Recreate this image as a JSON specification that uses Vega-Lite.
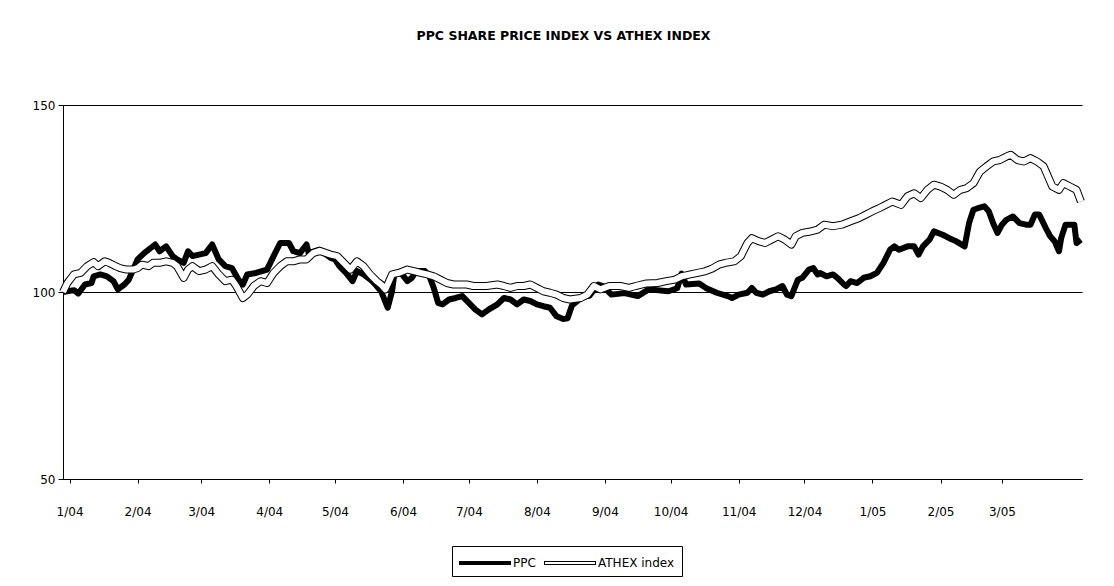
{
  "$schema": "https://vega.github.io/schema/vega-lite/v6.json",
  "width": 1019,
  "height": 374,
  "autosize": "none",
  "padding": {"left": 63, "top": 105, "right": 32, "bottom": 107},
  "background": "white",
  "title": {"text": "PPC SHARE PRICE INDEX VS ATHEX INDEX", "font": "DejaVu Sans", "fontSize": 12.5, "fontWeight": "bold", "color": "black", "anchor": "middle", "offset": 47, "baseline": "alphabetic", "dx": -9},
  "data": {"values": [
      {"series": "PPC", "date": "2003-12-29", "value": 100.0}, {"series": "PPC", "date": "2004-01-03", "value": 100.5}, {"series": "PPC", "date": "2004-01-05", "value": 99.6}, {"series": "PPC", "date": "2004-01-08", "value": 102.0}, {"series": "PPC", "date": "2004-01-11", "value": 102.4}, {"series": "PPC", "date": "2004-01-12", "value": 104.2}, {"series": "PPC", "date": "2004-01-15", "value": 104.7}, {"series": "PPC", "date": "2004-01-18", "value": 104.2}, {"series": "PPC", "date": "2004-01-21", "value": 102.9}, {"series": "PPC", "date": "2004-01-23", "value": 100.7}, {"series": "PPC", "date": "2004-01-26", "value": 102.0}, {"series": "PPC", "date": "2004-01-28", "value": 103.3},
      {"series": "PPC", "date": "2004-02-01", "value": 108.7}, {"series": "PPC", "date": "2004-02-04", "value": 110.4}, {"series": "PPC", "date": "2004-02-09", "value": 112.7}, {"series": "PPC", "date": "2004-02-11", "value": 110.9}, {"series": "PPC", "date": "2004-02-14", "value": 112.2}, {"series": "PPC", "date": "2004-02-17", "value": 109.6}, {"series": "PPC", "date": "2004-02-19", "value": 108.7}, {"series": "PPC", "date": "2004-02-22", "value": 107.8}, {"series": "PPC", "date": "2004-02-24", "value": 110.9}, {"series": "PPC", "date": "2004-02-26", "value": 109.6}, {"series": "PPC", "date": "2004-02-29", "value": 110.0},
      {"series": "PPC", "date": "2004-03-03", "value": 110.4}, {"series": "PPC", "date": "2004-03-06", "value": 112.7}, {"series": "PPC", "date": "2004-03-09", "value": 108.7}, {"series": "PPC", "date": "2004-03-12", "value": 106.9}, {"series": "PPC", "date": "2004-03-15", "value": 106.4}, {"series": "PPC", "date": "2004-03-18", "value": 103.3}, {"series": "PPC", "date": "2004-03-20", "value": 102.0}, {"series": "PPC", "date": "2004-03-22", "value": 104.7}, {"series": "PPC", "date": "2004-03-26", "value": 105.1}, {"series": "PPC", "date": "2004-03-31", "value": 106.0},
      {"series": "PPC", "date": "2004-04-03", "value": 109.6}, {"series": "PPC", "date": "2004-04-06", "value": 113.1}, {"series": "PPC", "date": "2004-04-10", "value": 113.1}, {"series": "PPC", "date": "2004-04-12", "value": 110.9}, {"series": "PPC", "date": "2004-04-15", "value": 110.4}, {"series": "PPC", "date": "2004-04-18", "value": 112.7}, {"series": "PPC", "date": "2004-04-19", "value": 110.4}, {"series": "PPC", "date": "2004-04-24", "value": 111.3}, {"series": "PPC", "date": "2004-04-29", "value": 109.1},
      {"series": "PPC", "date": "2004-05-01", "value": 108.7}, {"series": "PPC", "date": "2004-05-03", "value": 106.9}, {"series": "PPC", "date": "2004-05-06", "value": 105.1}, {"series": "PPC", "date": "2004-05-09", "value": 102.9}, {"series": "PPC", "date": "2004-05-11", "value": 105.6}, {"series": "PPC", "date": "2004-05-14", "value": 104.7}, {"series": "PPC", "date": "2004-05-18", "value": 102.9}, {"series": "PPC", "date": "2004-05-20", "value": 101.6}, {"series": "PPC", "date": "2004-05-22", "value": 100.2}, {"series": "PPC", "date": "2004-05-25", "value": 95.8}, {"series": "PPC", "date": "2004-05-27", "value": 100.2}, {"series": "PPC", "date": "2004-05-28", "value": 104.7}, {"series": "PPC", "date": "2004-05-31", "value": 105.1},
      {"series": "PPC", "date": "2004-06-03", "value": 102.9}, {"series": "PPC", "date": "2004-06-05", "value": 103.8}, {"series": "PPC", "date": "2004-06-07", "value": 105.6}, {"series": "PPC", "date": "2004-06-11", "value": 105.6}, {"series": "PPC", "date": "2004-06-13", "value": 104.2}, {"series": "PPC", "date": "2004-06-15", "value": 101.1}, {"series": "PPC", "date": "2004-06-17", "value": 97.1}, {"series": "PPC", "date": "2004-06-19", "value": 96.7}, {"series": "PPC", "date": "2004-06-22", "value": 98.0}, {"series": "PPC", "date": "2004-06-25", "value": 98.4}, {"series": "PPC", "date": "2004-06-28", "value": 98.9},
      {"series": "PPC", "date": "2004-07-01", "value": 97.1}, {"series": "PPC", "date": "2004-07-04", "value": 95.3}, {"series": "PPC", "date": "2004-07-07", "value": 94.0}, {"series": "PPC", "date": "2004-07-10", "value": 95.3}, {"series": "PPC", "date": "2004-07-14", "value": 96.7}, {"series": "PPC", "date": "2004-07-17", "value": 98.4}, {"series": "PPC", "date": "2004-07-20", "value": 98.0}, {"series": "PPC", "date": "2004-07-23", "value": 96.7}, {"series": "PPC", "date": "2004-07-26", "value": 98.0}, {"series": "PPC", "date": "2004-07-29", "value": 97.6},
      {"series": "PPC", "date": "2004-08-01", "value": 96.7}, {"series": "PPC", "date": "2004-08-04", "value": 96.2}, {"series": "PPC", "date": "2004-08-07", "value": 95.8}, {"series": "PPC", "date": "2004-08-10", "value": 93.5}, {"series": "PPC", "date": "2004-08-13", "value": 92.8}, {"series": "PPC", "date": "2004-08-15", "value": 93.0}, {"series": "PPC", "date": "2004-08-17", "value": 96.4}, {"series": "PPC", "date": "2004-08-22", "value": 98.8}, {"series": "PPC", "date": "2004-08-25", "value": 99.0}, {"series": "PPC", "date": "2004-08-29", "value": 102.0}, {"series": "PPC", "date": "2004-08-31", "value": 101.6},
      {"series": "PPC", "date": "2004-09-04", "value": 99.3}, {"series": "PPC", "date": "2004-09-10", "value": 99.7}, {"series": "PPC", "date": "2004-09-16", "value": 98.9}, {"series": "PPC", "date": "2004-09-21", "value": 100.7}, {"series": "PPC", "date": "2004-09-30", "value": 100.2},
      {"series": "PPC", "date": "2004-10-04", "value": 101.0}, {"series": "PPC", "date": "2004-10-06", "value": 104.9}, {"series": "PPC", "date": "2004-10-08", "value": 102.0}, {"series": "PPC", "date": "2004-10-14", "value": 102.3}, {"series": "PPC", "date": "2004-10-17", "value": 101.1}, {"series": "PPC", "date": "2004-10-22", "value": 99.8}, {"series": "PPC", "date": "2004-10-27", "value": 98.9}, {"series": "PPC", "date": "2004-10-29", "value": 98.4},
      {"series": "PPC", "date": "2004-11-01", "value": 99.3}, {"series": "PPC", "date": "2004-11-05", "value": 99.8}, {"series": "PPC", "date": "2004-11-07", "value": 101.1}, {"series": "PPC", "date": "2004-11-09", "value": 99.8}, {"series": "PPC", "date": "2004-11-12", "value": 99.3}, {"series": "PPC", "date": "2004-11-15", "value": 100.2}, {"series": "PPC", "date": "2004-11-18", "value": 100.7}, {"series": "PPC", "date": "2004-11-21", "value": 101.6}, {"series": "PPC", "date": "2004-11-23", "value": 99.3}, {"series": "PPC", "date": "2004-11-25", "value": 98.9}, {"series": "PPC", "date": "2004-11-28", "value": 103.3}, {"series": "PPC", "date": "2004-11-30", "value": 103.8},
      {"series": "PPC", "date": "2004-12-03", "value": 106.0}, {"series": "PPC", "date": "2004-12-05", "value": 106.4}, {"series": "PPC", "date": "2004-12-07", "value": 104.7}, {"series": "PPC", "date": "2004-12-08", "value": 105.1}, {"series": "PPC", "date": "2004-12-11", "value": 104.2}, {"series": "PPC", "date": "2004-12-14", "value": 104.7}, {"series": "PPC", "date": "2004-12-16", "value": 103.8}, {"series": "PPC", "date": "2004-12-19", "value": 102.0}, {"series": "PPC", "date": "2004-12-20", "value": 101.6}, {"series": "PPC", "date": "2004-12-22", "value": 102.9}, {"series": "PPC", "date": "2004-12-25", "value": 102.4}, {"series": "PPC", "date": "2004-12-28", "value": 103.8}, {"series": "PPC", "date": "2004-12-31", "value": 104.2},
      {"series": "PPC", "date": "2005-01-03", "value": 105.1}, {"series": "PPC", "date": "2005-01-06", "value": 107.8}, {"series": "PPC", "date": "2005-01-09", "value": 111.3}, {"series": "PPC", "date": "2005-01-11", "value": 112.2}, {"series": "PPC", "date": "2005-01-13", "value": 111.3}, {"series": "PPC", "date": "2005-01-17", "value": 112.2}, {"series": "PPC", "date": "2005-01-20", "value": 112.2}, {"series": "PPC", "date": "2005-01-22", "value": 110.0}, {"series": "PPC", "date": "2005-01-24", "value": 112.2}, {"series": "PPC", "date": "2005-01-27", "value": 114.0}, {"series": "PPC", "date": "2005-01-29", "value": 116.2},
      {"series": "PPC", "date": "2005-02-02", "value": 115.3}, {"series": "PPC", "date": "2005-02-05", "value": 114.4}, {"series": "PPC", "date": "2005-02-08", "value": 113.6}, {"series": "PPC", "date": "2005-02-12", "value": 112.2}, {"series": "PPC", "date": "2005-02-14", "value": 118.4}, {"series": "PPC", "date": "2005-02-16", "value": 122.0}, {"series": "PPC", "date": "2005-02-18", "value": 122.4}, {"series": "PPC", "date": "2005-02-21", "value": 122.9}, {"series": "PPC", "date": "2005-02-23", "value": 121.6}, {"series": "PPC", "date": "2005-02-25", "value": 118.4}, {"series": "PPC", "date": "2005-02-27", "value": 115.8},
      {"series": "PPC", "date": "2005-03-01", "value": 118.0}, {"series": "PPC", "date": "2005-03-03", "value": 119.3}, {"series": "PPC", "date": "2005-03-06", "value": 120.2}, {"series": "PPC", "date": "2005-03-09", "value": 118.4}, {"series": "PPC", "date": "2005-03-12", "value": 118.0}, {"series": "PPC", "date": "2005-03-14", "value": 118.0}, {"series": "PPC", "date": "2005-03-16", "value": 120.7}, {"series": "PPC", "date": "2005-03-18", "value": 120.7}, {"series": "PPC", "date": "2005-03-21", "value": 117.1}, {"series": "PPC", "date": "2005-03-23", "value": 114.9}, {"series": "PPC", "date": "2005-03-25", "value": 113.6}, {"series": "PPC", "date": "2005-03-27", "value": 110.9}, {"series": "PPC", "date": "2005-03-28", "value": 114.4}, {"series": "PPC", "date": "2005-03-30", "value": 118.0},
      {"series": "PPC", "date": "2005-04-01", "value": 118.0}, {"series": "PPC", "date": "2005-04-03", "value": 118.0}, {"series": "PPC", "date": "2005-04-04", "value": 113.1}, {"series": "PPC", "date": "2005-04-06", "value": 114.0},
      {"series": "ATHEX index", "date": "2003-12-29", "value": 100.0}, {"series": "ATHEX index", "date": "2003-12-31", "value": 102.4}, {"series": "ATHEX index", "date": "2004-01-03", "value": 104.7}, {"series": "ATHEX index", "date": "2004-01-06", "value": 105.1}, {"series": "ATHEX index", "date": "2004-01-09", "value": 106.9}, {"series": "ATHEX index", "date": "2004-01-12", "value": 108.0}, {"series": "ATHEX index", "date": "2004-01-14", "value": 106.9}, {"series": "ATHEX index", "date": "2004-01-17", "value": 108.2}, {"series": "ATHEX index", "date": "2004-01-19", "value": 107.8}, {"series": "ATHEX index", "date": "2004-01-22", "value": 106.9}, {"series": "ATHEX index", "date": "2004-01-24", "value": 106.4}, {"series": "ATHEX index", "date": "2004-01-27", "value": 106.0}, {"series": "ATHEX index", "date": "2004-01-30", "value": 106.0},
      {"series": "ATHEX index", "date": "2004-02-01", "value": 106.4}, {"series": "ATHEX index", "date": "2004-02-03", "value": 107.3}, {"series": "ATHEX index", "date": "2004-02-06", "value": 106.9}, {"series": "ATHEX index", "date": "2004-02-08", "value": 107.8}, {"series": "ATHEX index", "date": "2004-02-11", "value": 107.8}, {"series": "ATHEX index", "date": "2004-02-14", "value": 108.2}, {"series": "ATHEX index", "date": "2004-02-17", "value": 107.8}, {"series": "ATHEX index", "date": "2004-02-19", "value": 106.9}, {"series": "ATHEX index", "date": "2004-02-22", "value": 103.8}, {"series": "ATHEX index", "date": "2004-02-24", "value": 106.0}, {"series": "ATHEX index", "date": "2004-02-26", "value": 106.9}, {"series": "ATHEX index", "date": "2004-02-29", "value": 105.6},
      {"series": "ATHEX index", "date": "2004-03-03", "value": 106.0}, {"series": "ATHEX index", "date": "2004-03-06", "value": 106.9}, {"series": "ATHEX index", "date": "2004-03-09", "value": 104.7}, {"series": "ATHEX index", "date": "2004-03-12", "value": 102.9}, {"series": "ATHEX index", "date": "2004-03-15", "value": 103.3}, {"series": "ATHEX index", "date": "2004-03-17", "value": 101.6}, {"series": "ATHEX index", "date": "2004-03-20", "value": 98.4}, {"series": "ATHEX index", "date": "2004-03-22", "value": 99.3}, {"series": "ATHEX index", "date": "2004-03-25", "value": 101.6}, {"series": "ATHEX index", "date": "2004-03-28", "value": 102.9}, {"series": "ATHEX index", "date": "2004-03-31", "value": 102.4},
      {"series": "ATHEX index", "date": "2004-04-03", "value": 105.1}, {"series": "ATHEX index", "date": "2004-04-06", "value": 106.9}, {"series": "ATHEX index", "date": "2004-04-09", "value": 108.2}, {"series": "ATHEX index", "date": "2004-04-12", "value": 108.2}, {"series": "ATHEX index", "date": "2004-04-15", "value": 108.7}, {"series": "ATHEX index", "date": "2004-04-18", "value": 108.7}, {"series": "ATHEX index", "date": "2004-04-21", "value": 110.4}, {"series": "ATHEX index", "date": "2004-04-24", "value": 111.0}, {"series": "ATHEX index", "date": "2004-04-29", "value": 110.0},
      {"series": "ATHEX index", "date": "2004-05-02", "value": 109.6}, {"series": "ATHEX index", "date": "2004-05-05", "value": 107.8}, {"series": "ATHEX index", "date": "2004-05-08", "value": 106.0}, {"series": "ATHEX index", "date": "2004-05-11", "value": 108.2}, {"series": "ATHEX index", "date": "2004-05-14", "value": 106.9}, {"series": "ATHEX index", "date": "2004-05-17", "value": 104.7}, {"series": "ATHEX index", "date": "2004-05-20", "value": 102.9}, {"series": "ATHEX index", "date": "2004-05-22", "value": 102.0}, {"series": "ATHEX index", "date": "2004-05-24", "value": 100.7}, {"series": "ATHEX index", "date": "2004-05-27", "value": 104.7}, {"series": "ATHEX index", "date": "2004-05-30", "value": 105.1},
      {"series": "ATHEX index", "date": "2004-06-03", "value": 106.0}, {"series": "ATHEX index", "date": "2004-06-06", "value": 105.6}, {"series": "ATHEX index", "date": "2004-06-09", "value": 105.1}, {"series": "ATHEX index", "date": "2004-06-12", "value": 104.7}, {"series": "ATHEX index", "date": "2004-06-15", "value": 104.2}, {"series": "ATHEX index", "date": "2004-06-18", "value": 103.3}, {"series": "ATHEX index", "date": "2004-06-21", "value": 102.4}, {"series": "ATHEX index", "date": "2004-06-24", "value": 102.0}, {"series": "ATHEX index", "date": "2004-06-27", "value": 102.0}, {"series": "ATHEX index", "date": "2004-06-30", "value": 102.0},
      {"series": "ATHEX index", "date": "2004-07-03", "value": 101.6}, {"series": "ATHEX index", "date": "2004-07-06", "value": 101.6}, {"series": "ATHEX index", "date": "2004-07-09", "value": 101.6}, {"series": "ATHEX index", "date": "2004-07-14", "value": 102.0}, {"series": "ATHEX index", "date": "2004-07-17", "value": 101.6}, {"series": "ATHEX index", "date": "2004-07-20", "value": 101.1}, {"series": "ATHEX index", "date": "2004-07-23", "value": 101.6}, {"series": "ATHEX index", "date": "2004-07-26", "value": 101.6}, {"series": "ATHEX index", "date": "2004-07-29", "value": 102.0},
      {"series": "ATHEX index", "date": "2004-08-01", "value": 101.1}, {"series": "ATHEX index", "date": "2004-08-04", "value": 100.2}, {"series": "ATHEX index", "date": "2004-08-07", "value": 99.8}, {"series": "ATHEX index", "date": "2004-08-10", "value": 99.3}, {"series": "ATHEX index", "date": "2004-08-13", "value": 98.4}, {"series": "ATHEX index", "date": "2004-08-16", "value": 98.0}, {"series": "ATHEX index", "date": "2004-08-21", "value": 98.4}, {"series": "ATHEX index", "date": "2004-08-24", "value": 99.3}, {"series": "ATHEX index", "date": "2004-08-27", "value": 101.6}, {"series": "ATHEX index", "date": "2004-08-30", "value": 100.7},
      {"series": "ATHEX index", "date": "2004-09-03", "value": 101.6}, {"series": "ATHEX index", "date": "2004-09-08", "value": 101.6}, {"series": "ATHEX index", "date": "2004-09-12", "value": 101.1}, {"series": "ATHEX index", "date": "2004-09-15", "value": 101.6}, {"series": "ATHEX index", "date": "2004-09-20", "value": 102.3}, {"series": "ATHEX index", "date": "2004-09-25", "value": 102.4}, {"series": "ATHEX index", "date": "2004-09-29", "value": 102.9},
      {"series": "ATHEX index", "date": "2004-10-03", "value": 103.3}, {"series": "ATHEX index", "date": "2004-10-06", "value": 104.2}, {"series": "ATHEX index", "date": "2004-10-10", "value": 104.7}, {"series": "ATHEX index", "date": "2004-10-14", "value": 105.2}, {"series": "ATHEX index", "date": "2004-10-17", "value": 105.6}, {"series": "ATHEX index", "date": "2004-10-20", "value": 106.3}, {"series": "ATHEX index", "date": "2004-10-23", "value": 107.3}, {"series": "ATHEX index", "date": "2004-10-26", "value": 107.8}, {"series": "ATHEX index", "date": "2004-10-30", "value": 108.2},
      {"series": "ATHEX index", "date": "2004-11-02", "value": 109.6}, {"series": "ATHEX index", "date": "2004-11-05", "value": 113.1}, {"series": "ATHEX index", "date": "2004-11-07", "value": 114.4}, {"series": "ATHEX index", "date": "2004-11-10", "value": 113.6}, {"series": "ATHEX index", "date": "2004-11-13", "value": 113.1}, {"series": "ATHEX index", "date": "2004-11-16", "value": 114.0}, {"series": "ATHEX index", "date": "2004-11-19", "value": 114.9}, {"series": "ATHEX index", "date": "2004-11-22", "value": 114.0}, {"series": "ATHEX index", "date": "2004-11-25", "value": 112.7}, {"series": "ATHEX index", "date": "2004-11-27", "value": 114.9}, {"series": "ATHEX index", "date": "2004-11-30", "value": 115.8},
      {"series": "ATHEX index", "date": "2004-12-03", "value": 116.1}, {"series": "ATHEX index", "date": "2004-12-07", "value": 116.7}, {"series": "ATHEX index", "date": "2004-12-10", "value": 118.0}, {"series": "ATHEX index", "date": "2004-12-14", "value": 117.6}, {"series": "ATHEX index", "date": "2004-12-18", "value": 118.0}, {"series": "ATHEX index", "date": "2004-12-22", "value": 118.9}, {"series": "ATHEX index", "date": "2004-12-26", "value": 119.8}, {"series": "ATHEX index", "date": "2004-12-29", "value": 120.7},
      {"series": "ATHEX index", "date": "2005-01-01", "value": 121.6}, {"series": "ATHEX index", "date": "2005-01-04", "value": 122.4}, {"series": "ATHEX index", "date": "2005-01-07", "value": 123.3}, {"series": "ATHEX index", "date": "2005-01-10", "value": 124.2}, {"series": "ATHEX index", "date": "2005-01-14", "value": 123.3}, {"series": "ATHEX index", "date": "2005-01-17", "value": 125.6}, {"series": "ATHEX index", "date": "2005-01-20", "value": 126.4}, {"series": "ATHEX index", "date": "2005-01-23", "value": 125.1}, {"series": "ATHEX index", "date": "2005-01-26", "value": 127.3}, {"series": "ATHEX index", "date": "2005-01-29", "value": 128.7},
      {"series": "ATHEX index", "date": "2005-02-01", "value": 128.2}, {"series": "ATHEX index", "date": "2005-02-04", "value": 127.3}, {"series": "ATHEX index", "date": "2005-02-07", "value": 126.0}, {"series": "ATHEX index", "date": "2005-02-10", "value": 127.3}, {"series": "ATHEX index", "date": "2005-02-13", "value": 127.8}, {"series": "ATHEX index", "date": "2005-02-16", "value": 129.1}, {"series": "ATHEX index", "date": "2005-02-19", "value": 132.2}, {"series": "ATHEX index", "date": "2005-02-22", "value": 133.6}, {"series": "ATHEX index", "date": "2005-02-25", "value": 134.9}, {"series": "ATHEX index", "date": "2005-02-28", "value": 135.3},
      {"series": "ATHEX index", "date": "2005-03-03", "value": 136.2}, {"series": "ATHEX index", "date": "2005-03-05", "value": 136.7}, {"series": "ATHEX index", "date": "2005-03-08", "value": 135.3}, {"series": "ATHEX index", "date": "2005-03-11", "value": 134.9}, {"series": "ATHEX index", "date": "2005-03-14", "value": 135.8}, {"series": "ATHEX index", "date": "2005-03-17", "value": 134.9}, {"series": "ATHEX index", "date": "2005-03-20", "value": 133.6}, {"series": "ATHEX index", "date": "2005-03-22", "value": 130.9}, {"series": "ATHEX index", "date": "2005-03-24", "value": 128.2}, {"series": "ATHEX index", "date": "2005-03-27", "value": 127.3}, {"series": "ATHEX index", "date": "2005-03-29", "value": 129.1},
      {"series": "ATHEX index", "date": "2005-04-01", "value": 128.2}, {"series": "ATHEX index", "date": "2005-04-04", "value": 127.3}, {"series": "ATHEX index", "date": "2005-04-06", "value": 124.2}
  ]},
  "encoding": {
    "x": {
      "field": "date", "type": "temporal",
      "scale": {"type": "utc", "domain": [{"year": 2003, "month": 12, "date": 29, "utc": true}, {"year": 2005, "month": 4, "date": 6, "hours": 12, "utc": true}]},
      "axis": {
        "title": null, "grid": false, "format": "%-m/%y",
        "values": [
          {"year": 2004, "month": 1, "date": 1, "utc": true}, {"year": 2004, "month": 2, "date": 1, "utc": true}, {"year": 2004, "month": 3, "date": 1, "utc": true}, {"year": 2004, "month": 4, "date": 1, "utc": true}, {"year": 2004, "month": 5, "date": 1, "utc": true}, {"year": 2004, "month": 6, "date": 1, "utc": true}, {"year": 2004, "month": 7, "date": 1, "utc": true}, {"year": 2004, "month": 8, "date": 1, "utc": true}, {"year": 2004, "month": 9, "date": 1, "utc": true}, {"year": 2004, "month": 10, "date": 1, "utc": true}, {"year": 2004, "month": 11, "date": 1, "utc": true}, {"year": 2004, "month": 12, "date": 1, "utc": true}, {"year": 2005, "month": 1, "date": 1, "utc": true}, {"year": 2005, "month": 2, "date": 1, "utc": true}, {"year": 2005, "month": 3, "date": 1, "utc": true}
        ],
        "tickSize": 4, "labelPadding": 23, "labelFlush": false, "labelOverlap": false
      }
    },
    "y": {
      "field": "value", "type": "quantitative",
      "scale": {"domain": [50, 150], "nice": false, "zero": false},
      "axis": {"title": null, "values": [50, 100, 150], "grid": true, "gridColor": "black", "gridOpacity": 1, "gridWidth": 1, "tickSize": 5, "labelPadding": 3}
    }
  },
  "layer": [
    {
      "mark": {"type": "point", "filled": true, "color": "black", "opacity": 0},
      "encoding": {
        "shape": {
          "field": "series", "type": "nominal",
          "scale": {"domain": ["PPC", "ATHEX index"], "range": ["M-1,-0.2H4.2V0.2H-1Z", "M-1,-0.2H4.2V0.2H-1Z M-0.9,-0.1V0.1H4.1V-0.1Z"]},
          "legend": {
            "orient": "none", "legendX": 389, "legendY": 441, "direction": "horizontal",
            "title": null, "strokeColor": "black", "fillColor": "white", "padding": 7,
            "symbolSize": 400, "symbolStrokeWidth": 0, "symbolOpacity": 1, "symbolFillColor": "black",
            "labelOffset": 34, "labelFont": "DejaVu Sans", "labelFontSize": 12, "labelColor": "black", "columnPadding": 8
          }
        }
      }
    },
    {
      "transform": [{"filter": "datum.series === 'PPC'"}],
      "mark": {"type": "line", "color": "black", "strokeWidth": 6, "strokeJoin": "round"},
      "encoding": {}
    },
    {
      "transform": [{"filter": "datum.series === 'ATHEX index'"}],
      "mark": {"type": "line", "color": "black", "strokeWidth": 8, "strokeJoin": "round"},
      "encoding": {}
    },
    {
      "transform": [{"filter": "datum.series === 'ATHEX index'"}],
      "mark": {"type": "line", "color": "white", "strokeWidth": 6, "strokeJoin": "round"},
      "encoding": {}
    }
  ],
  "config": {
    "view": {"stroke": null},
    "axis": {"domainColor": "black", "tickColor": "black", "labelColor": "black", "labelFont": "DejaVu Sans", "labelFontSize": 12, "domainWidth": 1, "tickWidth": 1}
  }
}
